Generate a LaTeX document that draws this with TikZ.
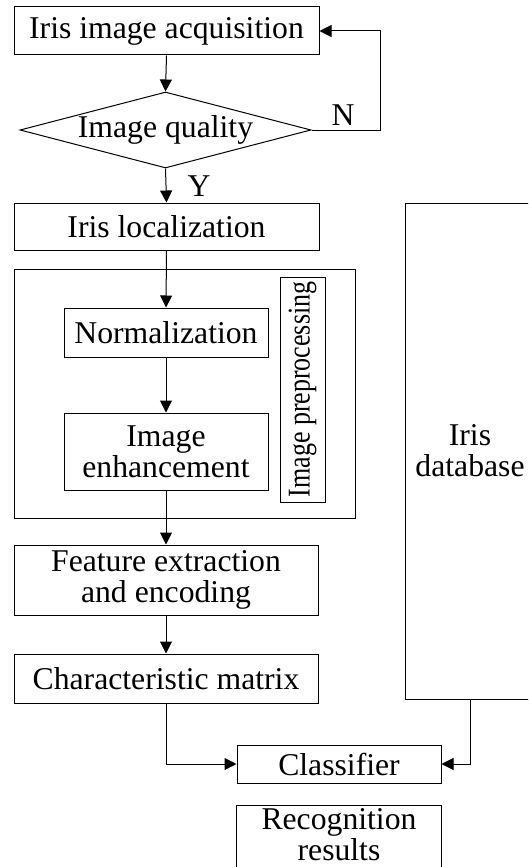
\documentclass[tikz,border=0pt]{standalone}
\usepackage{fontspec}
\usepackage{graphicx}
\setmainfont{Liberation Serif}
\usetikzlibrary{shapes.geometric,arrows.meta}
\begin{document}
\begin{tikzpicture}[x=1pt,y=-1pt,
  every node/.style={font=\fontsize{31.7}{31}\selectfont},
  box/.style={draw,line width=1pt,inner sep=0pt,align=center},
  arr/.style={line width=1pt,-{Triangle[length=12pt,width=12pt]}},
  ln/.style={line width=1pt}]
\clip (0,0) rectangle (528,867);
\fill[white] (0,0) rectangle (528,867);
% nodes
\node[box,minimum width=305pt,minimum height=48pt] (acq) at (166.5,31) {Iris image acquisition};
\node[draw,line width=1pt,shape=diamond,aspect=3.83,inner sep=0pt,minimum width=291pt,minimum height=76pt,label={[inner sep=0pt]center:Image quality}] (q) at (165.5,130) {};
\node (n) at (343,115) {N};
\node (y) at (199,186) {Y};
\node[box,minimum width=305pt,minimum height=47pt] (loc) at (166.5,226.5) {Iris localization};
\node[box,minimum width=341pt,minimum height=249pt] (pre) at (184.5,393.5) {};
\node[box,minimum width=204pt,minimum height=49pt] (norm) at (166,332.5) {Normalization};
\node[box,minimum width=204pt,minimum height=77pt] (enh) at (166,451.5) {Image\\enhancement};
\node[box,rotate=90,minimum width=225pt,minimum height=45pt] (prelab) at (302.5,389.5) {\scalebox{0.82}[1]{Image preprocessing}};
\node[box,minimum width=304pt,minimum height=70pt] (feat) at (166,580) {Feature extraction\\and encoding};
\node[box,minimum width=304pt,minimum height=49pt] (cm) at (166,678.5) {Characteristic matrix};
\node[box,minimum width=130pt,minimum height=496pt] (db) at (470,451) {Iris\\database};
\node[box,minimum width=204pt,minimum height=38pt] (cls) at (339,764) {Classifier};
\node[inner sep=0pt,align=center,minimum width=204pt,minimum height=58pt] (res) at (339,835) {Recognition\\results};
\draw[ln] ([yshift=-12pt]res.south west) |- (res.north east) -- ([yshift=-12pt]res.south east);
% connectors
\coordinate (nl) at (380,130);
\draw[arr] (acq.south) -- (q.north);
\draw[arr] (q.east) -- (nl) |- (acq.east);
\draw[arr] (q.south) -- (loc.north);
\draw[arr] (loc.south) -- (norm.north);
\draw[arr] (norm.south) -- (enh.north);
\draw[arr] (enh.south) -- (feat.north);
\draw[arr] (feat.south) -- (cm.north);
\draw[arr] (cm.south) |- (cls.west);
\draw[arr] (db.south) |- (cls.east);
\end{tikzpicture}
\end{document}
